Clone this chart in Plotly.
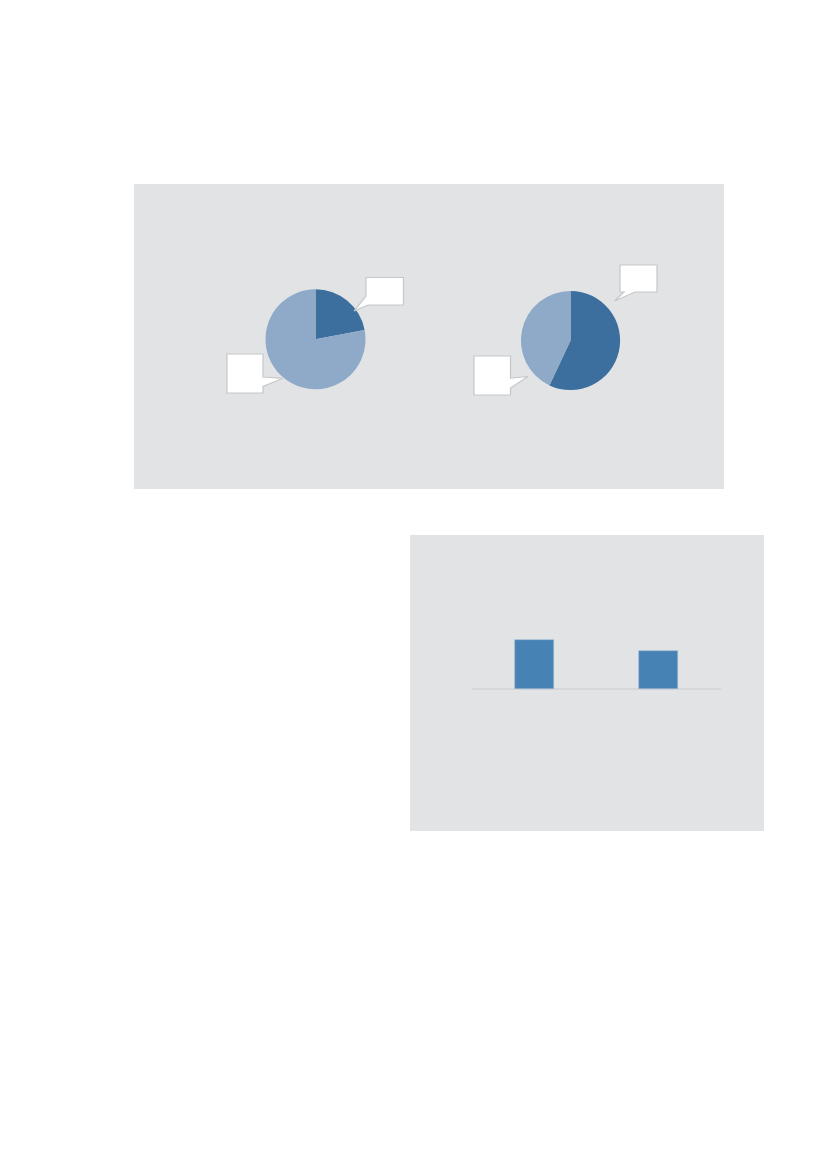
import plotly.graph_objects as go

W, H = 827, 1169
OFF = 8  # page body margin offset

# ---- data ----
pie1_labels = ["A", "B"]
pie1_values = [22, 78]
pie2_labels = ["A", "B"]
pie2_values = [57, 43]
bar_categories = ["Cat 1", "Cat 2"]
bar_values = [4.9, 3.8]

dark = "#3c6f9e"
light = "#8faac8"
bar_color = "#4682b4"
panel = "#e2e3e5"


def px(x):
    return (x - OFF) / W


def py(y):
    return 1 - (y - OFF) / H


def pie_domain(cx, cy, r):
    return dict(x=[px(cx - r), px(cx + r)], y=[py(cy + r), py(cy - r)])


fig = go.Figure()

fig.add_trace(go.Pie(labels=pie1_labels, values=pie1_values, sort=False,
                     direction="clockwise", rotation=0,
                     marker=dict(colors=[dark, light], line=dict(width=0)),
                     textinfo="none", hoverinfo="label+value",
                     domain=pie_domain(315.5, 339.3, 50), showlegend=False))
fig.add_trace(go.Pie(labels=pie2_labels, values=pie2_values, sort=False,
                     direction="clockwise", rotation=0,
                     marker=dict(colors=[dark, light], line=dict(width=0)),
                     textinfo="none", hoverinfo="label+value",
                     domain=pie_domain(570.5, 340.5, 49.6), showlegend=False))

fig.add_trace(go.Bar(x=bar_categories, y=bar_values, marker_color=bar_color,
                     marker_line=dict(width=0.6, color="#9dbbd6"),
                     width=0.31, xaxis="x", yaxis="y", showlegend=False))

shapes = []
# panels
shapes.append(dict(type="rect", xref="paper", yref="paper", layer="below",
                   x0=px(134), x1=px(724), y0=py(489), y1=py(184),
                   fillcolor=panel, line=dict(width=0)))
shapes.append(dict(type="rect", xref="paper", yref="paper", layer="below",
                   x0=px(410), x1=px(764), y0=py(831), y1=py(535),
                   fillcolor=panel, line=dict(width=0)))


def bubble(points):
    d = "M " + " L ".join(f"{px(x):.5f},{py(y):.5f}" for x, y in points) + " Z"
    return dict(type="path", xref="paper", yref="paper", path=d,
                fillcolor="white", line=dict(color="#c6c7c9", width=1.2),
                layer="above")


# pie1 top-right callout (tail from lower-left)
shapes.append(bubble([(366, 277.5), (403.5, 277.5), (403.5, 305), (368, 305),
                      (354, 311), (366, 296)]))
# pie1 left callout (tail from right edge)
shapes.append(bubble([(227, 354), (263, 354), (263, 377), (283, 378.3),
                      (263, 386.5), (263, 393), (227, 393)]))
# pie2 top-right callout (tail from bottom edge)
shapes.append(bubble([(620, 265), (657, 265), (657, 292), (635, 292),
                      (614.5, 301), (624, 292), (620, 292)]))
# pie2 left callout (tail from right edge)
shapes.append(bubble([(474, 356), (510.5, 356), (510.5, 378), (528, 376.5),
                      (510.5, 388), (510.5, 395), (474, 395)]))

ytop, ybot, yzero, ppu = 560, 810, 689, 10.0
fig.update_layout(
    width=W, height=H,
    margin=dict(l=0, r=0, t=0, b=0),
    paper_bgcolor="white", plot_bgcolor="rgba(0,0,0,0)",
    shapes=shapes,
    xaxis=dict(domain=[px(472), px(721)], range=[-0.5, 1.5], showticklabels=False,
               showgrid=False, zeroline=False, showline=False, ticks="",
               fixedrange=True),
    yaxis=dict(domain=[py(ybot), py(ytop)],
               range=[-(ybot - yzero) / ppu, (yzero - ytop) / ppu],
               showticklabels=False, showgrid=False, zeroline=True,
               zerolinecolor="#d6d7d9", zerolinewidth=1.5, showline=False,
               ticks="", fixedrange=True),
    bargap=0.0,
)

fig.write_html("out.html")
